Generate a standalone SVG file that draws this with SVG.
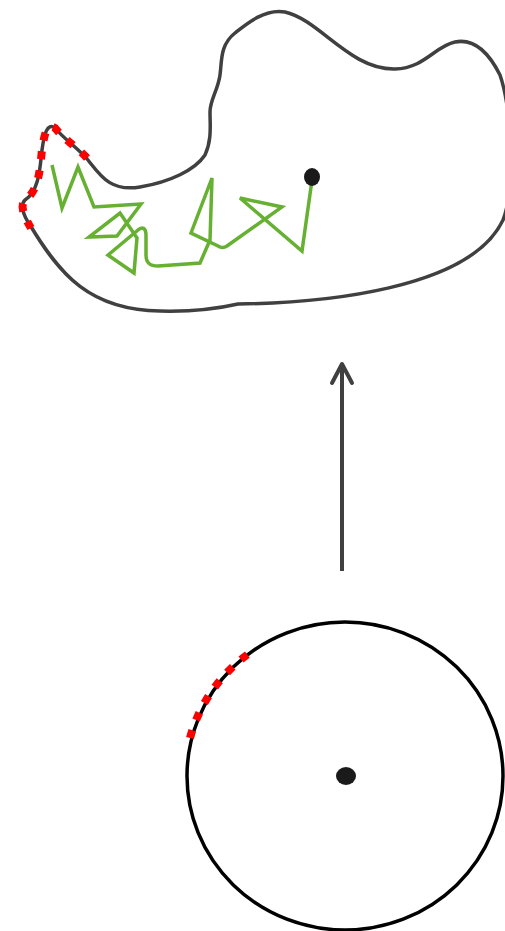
<svg xmlns="http://www.w3.org/2000/svg" width="505" height="931" viewBox="0 0 505 931">
  <style>
    .outline { fill: none; stroke: #404040; stroke-width: 3.5; stroke-linejoin: round; }
    .edge { fill: none; stroke: #ff0000; stroke-width: 8; stroke-dasharray: 8 11; }
    .walk { fill: none; stroke: #66b032; stroke-width: 3.5; stroke-linejoin: miter; }
    .dot { fill: #1a1a1a; }
    .conn { fill: none; stroke: #404040; stroke-width: 4; }
  </style>
  <defs>
    <marker id="chev" markerUnits="userSpaceOnUse" markerWidth="30" markerHeight="30" viewBox="0 0 30 30" refX="24" refY="15" orient="auto">
      <path d="M5,5 L24,15 L5,25" fill="none" stroke="#404040" stroke-width="4" stroke-linecap="round" stroke-linejoin="round"/>
    </marker>
  </defs>
  <rect width="505" height="931" fill="#ffffff"/>

  <g id="blob">
    <path class="outline" d="M238,304 C320,303 470,290 503,220 C515,190 512,110 500,75 C490,55 475,38 455,42 C435,46 425,68 395,69 C350,70 320,20 285,12 C265,8 245,25 235,33 C220,45 222,60 220,75 C218,90 210,100 210,112 C210,125 212,140 205,155 C195,170 170,182 140,187 C110,192 100,175 88,160 C78,148 65,140 55,128 C47,122 44,135 42,150 C40,165 40,190 25,200 C20,205 23,215 30,225 C60,275 90,310 160,311 C200,312 225,307 238,304 Z"/>
    <path class="edge" d="M87,158 C78,148 65,140 55,128 C47,122 44,135 42,150 C40,165 40,190 25,200 C20,205 23,215 31,228"/>
    <path class="walk" d="M52,165 L62,208 L78,167 L94,207 L141,204 L117,236 L89,237 L120,213 L137,238 L134,273 L108,255 L138,230 C142,226 146,228 146,235 L146,255 C146,263 150,266 158,266 L200,263 L210,240 L212,178 L191,233 L218,246 C221,248 224,248 227,246 L282,207 L240,198 L302,251 L312,180"/>
    <ellipse class="dot" cx="312" cy="177" rx="8" ry="9"/>
  </g>

  <g id="circle">
    <ellipse cx="345" cy="776" rx="158" ry="154" fill="none" stroke="#000000" stroke-width="3.5"/>
    <path class="edge" d="M190,738 A158,154 0 0 1 251,652" stroke-width="7"/>
    <ellipse class="dot" cx="346" cy="776" rx="10" ry="9"/>
  </g>

  <g id="connectors">
    <line class="conn" x1="342" y1="571" x2="342" y2="364" marker-end="url(#chev)"/>
  </g>
</svg>
